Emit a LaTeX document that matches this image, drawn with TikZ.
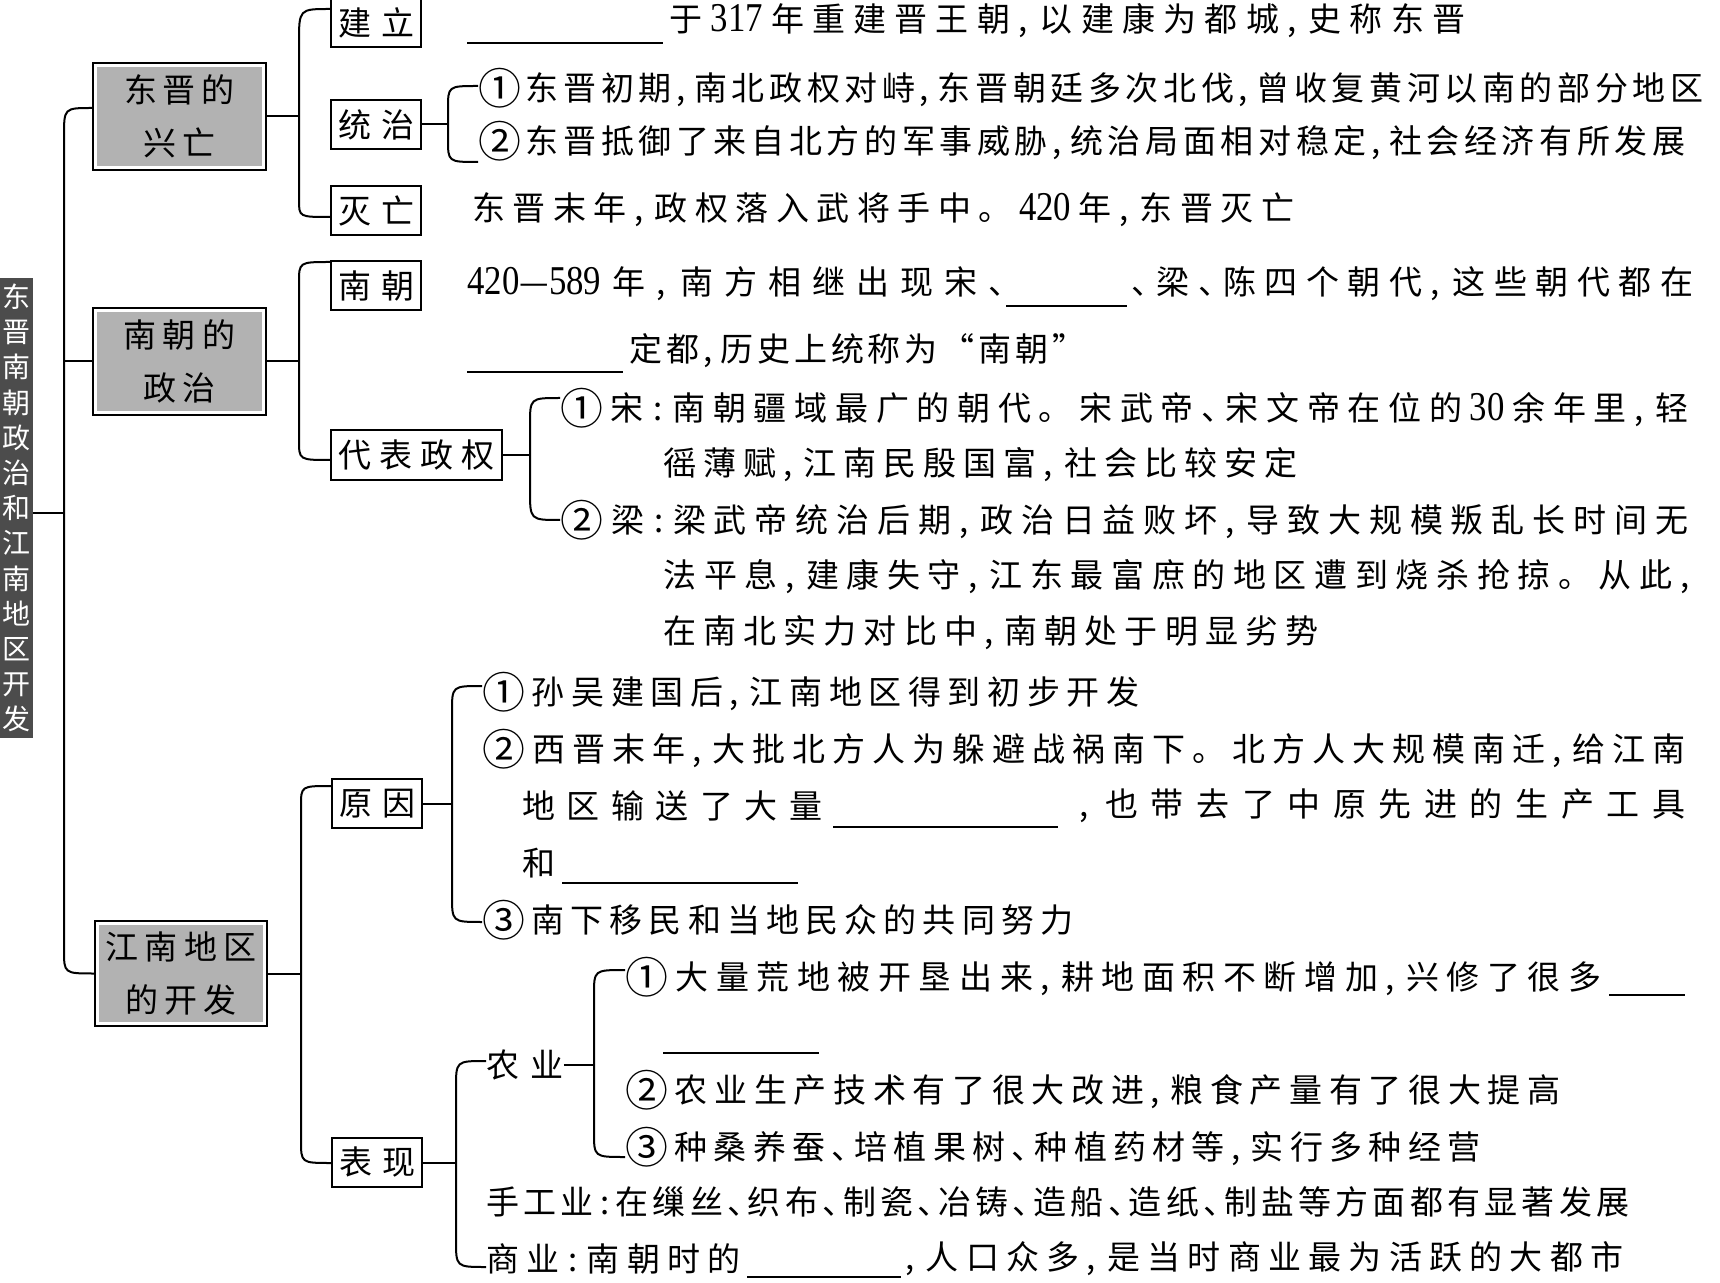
\documentclass[tikz,border=0pt]{standalone}
\usepackage{fontspec}
\usepackage{graphicx}
\setmainfont{Noto Sans CJK SC}
\newfontfamily\numfont[Scale=1.24,FakeStretch=0.85]{Liberation Serif}
\usetikzlibrary{calc}
\ExplSyntaxOn
\bool_new:N \l_sp_first_bool
\cs_new_protected:Npn \spreadtext #1 #2
 {
  \hbox_to_wd:nn { (#1pt) / 2 }
   {
    \bool_set_true:N \l_sp_first_bool
    \tl_map_inline:nn {#2}
     {
      \bool_if:NTF \l_sp_first_bool
       { \bool_set_false:N \l_sp_first_bool }
       { \hfil }
      ##1
     }
   }
 }
\ExplSyntaxOff
\newcommand\znum[1]{{\numfont #1}}
\newcommand\zcm{\makebox[0.4em][l]{,}}
\newcommand\zcl{\makebox[0.4em][c]{:}}
\newcommand\zdn{\makebox[0.5em][l]{、}}
\newcommand\zc[1]{\raisebox{-0.12em}{\scalebox{1.3}{#1}}}
\begin{document}
\begin{tikzpicture}[x=0.5pt,y=-0.5pt,
  conn/.style={line width=1pt},
  blank/.style={line width=0.7pt},
  txt/.style={anchor=west,inner sep=0pt,font=\fontsize{16.5pt}{20pt}\selectfont},
  sbox/.style={draw,line width=0.8pt,inner sep=0pt,minimum width=45pt,minimum height=24.5pt,font=\fontsize{16.5pt}{20pt}\selectfont},
  bbox/.style={draw,line width=0.8pt,inner sep=0pt,minimum width=86.5pt,minimum height=53.5pt,align=center,fill=white,
    font=\fontsize{16.5pt}{26.5pt}\selectfont,
    path picture={\fill[black!30] ([shift={(2pt,-2pt)}]path picture bounding box.north west) rectangle ([shift={(-2pt,2pt)}]path picture bounding box.south east);}}
]
\useasboundingbox (0,0) rectangle (1720,1283);
\fill[white] (0,0) rectangle (1720,1283);

% banner
\node[fill=black!70,minimum width=16.5pt,minimum height=230pt,inner sep=0pt,align=center,text=white,
  font=\fontsize{14pt}{17.6pt}\selectfont] (banner) at (16.5,508)
  {东\\晋\\南\\朝\\政\\治\\和\\江\\南\\地\\区\\开\\发};

% big boxes
\node[bbox] (dongjin) at (179.5,116.5) {\spreadtext{110}{东晋的}\\\spreadtext{72}{兴亡}};
\node[bbox] (nanzheng) at (179.5,361.5) {\spreadtext{112}{南朝的}\\\spreadtext{72}{政治}};
\node[bbox,minimum width=86pt,minimum height=52.5pt] (jiangnan) at (181,973.5) {\spreadtext{151}{江南地区}\\\spreadtext{111}{的开发}};

% small boxes
\node[sbox,minimum height=24pt] (jianli) at (376,23) {\spreadtext{76}{建立}};
\node[sbox] (tongzhi) at (376,124.5) {\spreadtext{76}{统治}};
\node[sbox] (miewang) at (376,210.5) {\spreadtext{76}{灭亡}};
\node[sbox] (nanchao) at (376,285.5) {\spreadtext{76}{南朝}};
\node[sbox,minimum width=85.5pt,minimum height=25pt] (daibiao) at (416.5,455) {\spreadtext{157}{代表政权}};
\node[sbox] (yuanyin) at (377,803.5) {\spreadtext{76}{原因}};
\node[sbox] (biaoxian) at (377,1162.5) {\spreadtext{76}{表现}};

% text rows
\node[txt] (r1) at (669,21) {\spreadtext{796}{于{\znum{317}}年重建晋王朝\zcm 以建康为都城\zcm 史称东晋}};
\draw[blank] (467,43) -- (663,43);
\node[txt] (r2) at (478,88) {\spreadtext{1225}{{\zc{①}}东晋初期\zcm 南北政权对峙\zcm 东晋朝廷多次北伐\zcm 曾收复黄河以南的部分地区}};
\node[txt] (r3) at (478,141) {\spreadtext{1207}{{\zc{②}}东晋抵御了来自北方的军事威胁\zcm 统治局面相对稳定\zcm 社会经济有所发展}};
\node[txt] (r4) at (472,210) {\spreadtext{822}{东晋末年\zcm 政权落入武将手中。{\znum{420}}年\zcm 东晋灭亡}};
\node[txt] (r5a) at (467,284) {\spreadtext{538}{{\znum{420}—\znum{589}}年\zcm 南方相继出现宋\zdn}};
\draw[blank] (1006,306) -- (1127,306);
\node[txt] (r5b) at (1131,284) {\spreadtext{562}{\zdn 梁\zdn 陈四个朝代\zcm 这些朝代都在}};
\draw[blank] (467,372) -- (623,372);
\node[txt] (r6) at (629,351) {\spreadtext{456}{定都\zcm 历史上统称为“南朝”}};
\node[txt] (r7) at (560,408) {\spreadtext{1128}{{\zc{①}}宋\zcl 南朝疆域最广的朝代。宋武帝\zdn 宋文帝在位的{\znum{30}}余年里\zcm 轻}};
\node[txt] (r8) at (663,465) {\spreadtext{634}{徭薄赋\zcm 江南民殷国富\zcm 社会比较安定}};
\node[txt] (r9) at (560,520) {\spreadtext{1128}{{\zc{②}}梁\zcl 梁武帝统治后期\zcm 政治日益败坏\zcm 导致大规模叛乱长时间无}};
\node[txt] (r10) at (663,577) {\spreadtext{1030}{法平息\zcm 建康失守\zcm 江东最富庶的地区遭到烧杀抢掠。从此\zcm}};
\node[txt] (r11) at (663,633) {\spreadtext{655}{在南北实力对比中\zcm 南朝处于明显劣势}};
\node[txt] (r12) at (482,692) {\spreadtext{657}{{\zc{①}}孙吴建国后\zcm 江南地区得到初步开发}};
\node[txt] (r13) at (482,749) {\spreadtext{1203}{{\zc{②}}西晋末年\zcm 大批北方人为躲避战祸南下。北方人大规模南迁\zcm 给江南}};
\node[txt] (r14a) at (522,806) {\spreadtext{300}{地区输送了大量}};
\draw[blank] (833,827) -- (1058,827);
\node[txt] (r14b) at (1079,806) {\spreadtext{606}{\zcm 也带去了中原先进的生产工具}};
\node[txt] (r15) at (522,863) {和};
\draw[blank] (562,883) -- (798,883);
\node[txt] (r16) at (482,920) {\spreadtext{591}{{\zc{③}}南下移民和当地民众的共同努力}};
\node[txt] (nongye) at (486,1065) {\spreadtext{77}{农业}};
\node[txt] (r17) at (625,977) {\spreadtext{976}{{\zc{①}}大量荒地被开垦出来\zcm 耕地面积不断增加\zcm 兴修了很多}};
\draw[blank] (1609,995) -- (1685,995);
\draw[blank] (663,1053) -- (819,1053);
\node[txt] (r19) at (625,1090) {\spreadtext{935}{{\zc{②}}农业生产技术有了很大改进\zcm 粮食产量有了很大提高}};
\node[txt] (r20) at (625,1147) {\spreadtext{855}{{\zc{③}}种桑养蚕\zdn 培植果树\zdn 种植药材等\zcm 实行多种经营}};
\node[txt] (r21) at (486,1202) {\spreadtext{1143}{手工业\zcl 在缫丝\zdn 织布\zdn 制瓷\zdn 冶铸\zdn 造船\zdn 造纸\zdn 制盐等方面都有显著发展}};
\node[txt] (r22a) at (486,1259) {\spreadtext{254}{商业\zcl 南朝时的}};
\draw[blank] (747,1277) -- (901,1277);
\node[txt] (r22b) at (905,1259) {\spreadtext{718}{\zcm 人口众多\zcm 是当时商业最为活跃的大都市}};

% main trunk
\coordinate (trunk) at (64,513);
\draw[conn] ($(banner.east)+(0,5)$) -- ($(banner.east -| trunk)+(0,5)$);
\draw[conn] ($(dongjin.west)+(0,-8.5)$) .. controls ($(dongjin.west -| trunk)+(0,-8.5)$) .. ($(dongjin.west -| trunk)+(0,20)$)
  -- ($(jiangnan.west -| trunk)+(0,-24)$) .. controls (jiangnan.west -| trunk) .. (jiangnan.west);
\draw[conn] (nanzheng.west) -- (nanzheng.west -| trunk);

% bracket A
\coordinate (vA) at (299,116.5);
\draw[conn] (dongjin.east) -- (vA);
\draw[conn] ($(jianli.west)+(0,-14)$) .. controls ($(jianli.west -| vA)+(0,-14)$) .. ($(jianli.west -| vA)+(0,20)$)
  -- ($(miewang.west -| vA)+(0,-10.5)$) .. controls ($(miewang.west -| vA)+(0,6.5)$) .. ($(miewang.west)+(0,6.5)$);

% bracket B
\coordinate (vB) at (299,361.5);
\draw[conn] (nanzheng.east) -- (vB);
\draw[conn] ($(nanchao.west)+(0,-23.5)$) .. controls ($(nanchao.west -| vB)+(0,-23.5)$) .. ($(nanchao.west -| vB)+(0,-2.5)$)
  -- ($(daibiao.west -| vB)+(0,-15)$) .. controls ($(daibiao.west -| vB)+(0,5)$) .. ($(daibiao.west)+(0,5)$);

% bracket C
\coordinate (vC) at (301,973.5);
\draw[conn] (jiangnan.east) -- (vC);
\draw[conn] ($(yuanyin.west)+(0,-17.5)$) .. controls ($(yuanyin.west -| vC)+(0,-17.5)$) .. ($(yuanyin.west -| vC)+(0,2.5)$)
  -- ($(biaoxian.west -| vC)+(0,-22.5)$) .. controls ($(biaoxian.west -| vC)+(0,0.5)$) .. ($(biaoxian.west)+(0,0.5)$);

% bracket D
\coordinate (vD) at (448,124.5);
\draw[conn] (tongzhi.east) -- (vD);
\draw[conn] ($(r2.west)+(0,-2)$) .. controls ($(r2.west -| vD)+(0,-2)$) .. ($(r2.west -| vD)+(0,21)$)
  -- ($(r3.west -| vD)+(0,-2)$) .. controls ($(r3.west -| vD)+(0,21)$) .. ($(r3.west)+(0,21)$);

% bracket E
\coordinate (vE) at (530,455);
\draw[conn] (daibiao.east) -- (vE);
\draw[conn] ($(r7.west)+(0,-10)$) .. controls ($(r7.west -| vE)+(0,-10)$) .. ($(r7.west -| vE)+(0,17)$)
  -- ($(r9.west -| vE)+(0,-30)$) .. controls (r9.west -| vE) .. (r9.west);

% bracket F
\coordinate (vF) at (452,803.5);
\draw[conn] (yuanyin.east) -- (vF);
\draw[conn] ($(r12.west)+(0,-6)$) .. controls ($(r12.west -| vF)+(0,-6)$) .. ($(r12.west -| vF)+(0,20)$)
  -- ($(r16.west -| vF)+(0,-25)$) .. controls ($(r16.west -| vF)+(0,2)$) .. ($(r16.west)+(0,2)$);

% bracket G
\coordinate (vG) at (456,1162.5);
\draw[conn] (biaoxian.east) -- (vG);
\draw[conn] ($(nongye.west)+(0,-4)$) .. controls ($(nongye.west -| vG)+(0,-4)$) .. ($(nongye.west -| vG)+(0,23)$)
  -- ($(r22a.west -| vG)+(0,-19)$) .. controls ($(r22a.west -| vG)+(0,8)$) .. ($(r22a.west)+(0,8)$);

% bracket H
\coordinate (vH) at (594,1065);
\draw[conn] (nongye.east) -- (vH);
\draw[conn] ($(r17.west)+(0,-7)$) .. controls ($(r17.west -| vH)+(0,-7)$) .. ($(r17.west -| vH)+(0,18)$)
  -- ($(r20.west -| vH)+(0,-15)$) .. controls ($(r20.west -| vH)+(0,10)$) .. ($(r20.west)+(0,10)$);
\end{tikzpicture}
\end{document}
